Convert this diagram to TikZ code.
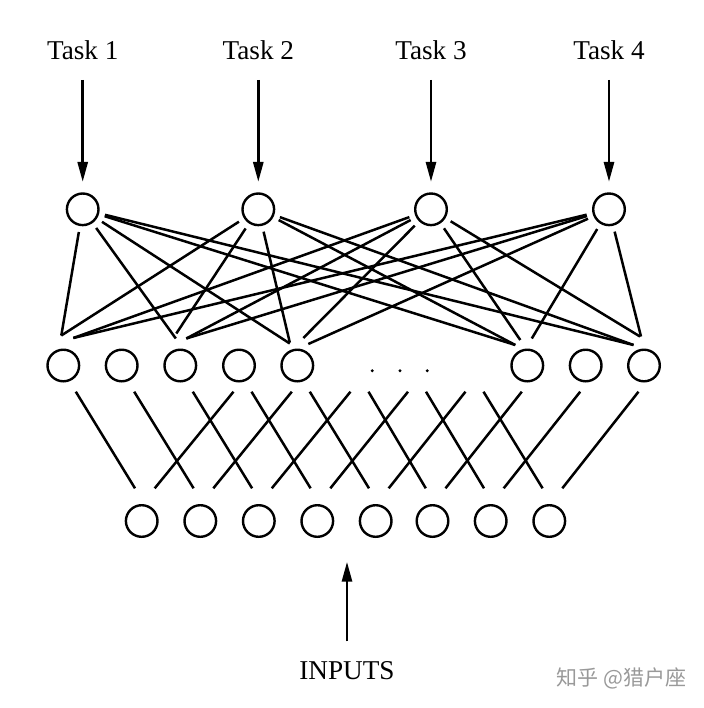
\documentclass[tikz,border=0pt]{standalone}
\usepackage{fontspec}
\setmainfont{Liberation Serif}
\newfontfamily\cjk{Noto Sans CJK SC}
\usetikzlibrary{calc,arrows.meta}

\begin{document}
\begin{tikzpicture}[x=0.5pt,y=-0.5pt,line width=1.25pt]
\useasboundingbox (0,0) rectangle (704,708);
\tikzstyle{tasklabel}=[font=\fontsize{13.6}{16}\selectfont,anchor=base]
\tikzstyle{inarrow}=[-{Triangle[length=10pt,width=5pt]},line width=1.4pt]

\foreach \x/\y in {1/82.7,2/258.3,3/431,4/609}
  \node[tasklabel] (l\x) at (\y,59.3) {Task \x};
\node[tasklabel] (inp) at (347,679.3) {INPUTS};
\node[text=black!40,font=\cjk\fontsize{10.5}{12}\selectfont] (wm) at (621.5,678) {知乎 @猎户座};
\coordinate (itip) at (347,561.7);
\coordinate (h5) at (356,365.5);
\coordinate (h6) at (413.5,365.5);
\coordinate (h7) at (471,365.5);

\tikzstyle{every node}=[draw,shape=circle,minimum size=15.8pt,inner sep=0pt,line width=1.2pt];

\draw node foreach \x/\y in {1/82.7,2/258.3,3/431,4/609} (t\x) at (\y,209.3) {};
\draw node foreach \x/\y in {0/63.3,1/121.7,2/180.3,3/239,4/297.3,8/527.3,9/585.7,10/644} (h\x) at (\y,365.5) {};
\draw node foreach \x/\y in {0/141.7,1/200.3,2/258.8,3/317.3,4/375.7,5/432.5,6/490.7,7/549.3} (i\x) at (\y,521) {};

% dots
\fill (372.3,370.7) circle (0.8pt) (400,370.7) circle (0.8pt) (427.3,370.7) circle (0.8pt);

% task arrows
\foreach \x in {1,2,3,4}
  \draw[inarrow,shorten <=6.2pt,shorten >=5.2pt] (l\x.south) -- (t\x);
\draw[inarrow,shorten <=6pt] (inp.north) -- (itip);

% tasks to hidden
\foreach \a/\b/\dx/\dy in {1/0/-2/-30,1/2/-4.5/-27,1/4/-7.5/-22,1/8/-12/-20.5,1/10/-10.5/-20.5,
  2/0/-2/-30,2/2/-4/-32,2/4/-7.5/-23,2/8/-12/-20.5,2/10/-10.5/-20.5,
  3/0/10/-27.5,3/2/6/-27,3/4/6/-27.5,3/8/-7/-25.5,3/10/-4/-29,
  4/0/10/-27.5,4/2/6/-27,4/4/11/-21.5,4/8/4.5/-27,4/10/-3/-29}
  \draw[shorten <=3pt] (t\a) -- ($(h\b)+(\dx,\dy)$);

% hidden to inputs
\foreach \k in {0,...,7}
  \draw ($(h\k)+(12.5,26.2)$) -- ($(i\k)+(-6.7,-32.7)$);
\foreach \a/\b in {3/0,4/1,5/2,6/3,7/4,8/5,9/6,10/7}
  \draw ($(h\a)+(-5.5,26.2)$) -- ($(i\b)+(13,-32.7)$);
\end{tikzpicture}
\end{document}
